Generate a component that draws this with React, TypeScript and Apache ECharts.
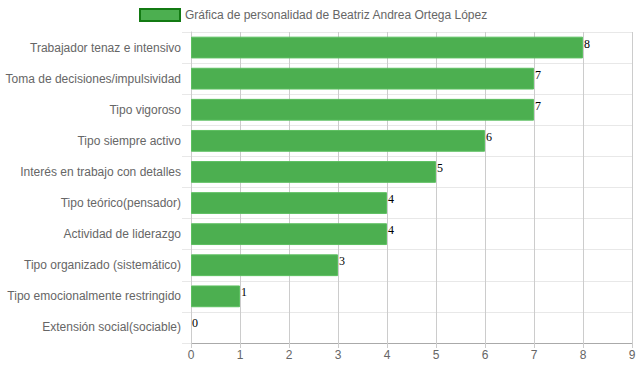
import React, { useEffect, useRef } from "react";
import * as echarts from "echarts";

const categories = [
  "Trabajador tenaz e intensivo",
  "Toma de decisiones/impulsividad",
  "Tipo vigoroso",
  "Tipo siempre activo",
  "Interés en trabajo con detalles",
  "Tipo teórico(pensador)",
  "Actividad de liderazgo",
  "Tipo organizado (sistemático)",
  "Tipo emocionalmente restringido",
  "Extensión social(sociable)",
];
const values = [8, 7, 7, 6, 5, 4, 4, 3, 1, 0];
const seriesName = "Gráfica de personalidad de Beatriz Andrea Ortega López";

const SANS = "'Liberation Sans', Arial, sans-serif";

export default function App() {
  const ref = useRef<HTMLDivElement>(null);
  useEffect(() => {
    document.body.style.margin = "0";
    const chart = echarts.init(ref.current!, null, { renderer: "svg" });
    chart.setOption({
      animation: false,
      legend: {
        top: 3,
        left: 134,
        icon: "rect",
        itemWidth: 40,
        itemHeight: 12,
        itemGap: 6,
        textStyle: { color: "#666", fontSize: 12, fontFamily: SANS },
        data: [{ name: seriesName, itemStyle: { borderColor: "#137a13", borderWidth: 2 } }],
      },
      grid: { left: 191, right: 7, top: 32, bottom: 29, containLabel: false },
      xAxis: {
        type: "value",
        min: 0,
        max: 9,
        interval: 1,
        axisLine: { show: true, lineStyle: { color: "#aaa" } },
        axisTick: { show: true, length: 5, lineStyle: { color: "#ccc" } },
        splitLine: { show: true, lineStyle: { color: "#ccc" } },
        axisLabel: { color: "#666", fontSize: 12, fontFamily: SANS, margin: 6 },
      },
      yAxis: {
        type: "category",
        inverse: true,
        data: categories,
        axisLine: { show: true, lineStyle: { color: "#ccc" } },
        axisTick: { show: true, length: 9, lineStyle: { color: "#e8e8e8" } },
        splitLine: { show: true, lineStyle: { color: "#e8e8e8" } },
        axisLabel: { color: "#666", fontSize: 12, fontFamily: SANS, margin: 10 },
      },
      series: [
        {
          name: seriesName,
          type: "bar",
          data: values.map((v) => (v === 0 ? { value: v, itemStyle: { borderWidth: 0 } } : v)),
          barCategoryGap: "30%",
          itemStyle: { color: "#4caf50", borderColor: "#5cbf60", borderWidth: 1 },
          label: {
            show: true,
            position: "right",
            distance: 1,
            offset: [0, -4],
            color: "#000",
            fontSize: 12,
            fontFamily: "'Liberation Serif', 'Times New Roman', serif",
          },
        },
      ],
    });
    return () => chart.dispose();
  }, []);
  return <div ref={ref} style={{ width: 639, height: 372 }} />;
}
